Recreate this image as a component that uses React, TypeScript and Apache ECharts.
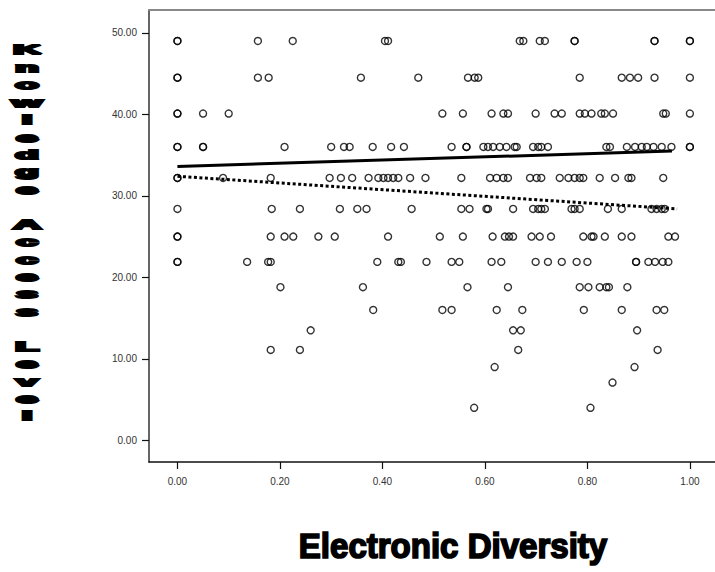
import React, { useEffect, useRef } from "react";
import * as echarts from "echarts";

const xTicks = [0, 0.2, 0.4, 0.6, 0.8, 1.0];
const yTicks = [0, 10, 20, 30, 40, 50];
const xTitle = "Electronic Diversity";
const yTitle = "Knowledge Access Level";

const rowLevels = [49.0, 44.5, 40.1, 36.0, 32.2, 28.4, 25.0, 21.9, 18.8, 16.0, 13.5, 11.1, 9.0, 7.1, 4.0];
const row49 = [0, 0, 0.157, 0.225, 0.405, 0.411, 0.668, 0.675, 0.707, 0.717, 0.775, 0.775, 0.931, 0.931, 1.0, 1.0];
const row44 = [0, 0, 0.157, 0.178, 0.358, 0.47, 0.567, 0.58, 0.587, 0.785, 0.867, 0.883, 0.899, 0.931, 1.0];
const row40 = [0, 0, 0.05, 0.1, 0.517, 0.557, 0.613, 0.636, 0.645, 0.699, 0.736, 0.75, 0.785, 0.795, 0.808, 0.827, 0.834, 0.85, 0.948, 0.953, 1.0];
const row36 = [0, 0, 0.05, 0.05, 0.209, 0.3, 0.325, 0.336, 0.381, 0.417, 0.442, 0.535, 0.564, 0.564, 0.597, 0.606, 0.616, 0.629, 0.642, 0.658, 0.662, 0.694, 0.704, 0.71, 0.723, 0.837, 0.844, 0.877, 0.893, 0.906, 0.916, 0.929, 0.945, 0.964, 1.0, 1.0];
const row32 = [0, 0, 0.089, 0.182, 0.297, 0.319, 0.341, 0.373, 0.392, 0.402, 0.411, 0.421, 0.431, 0.454, 0.484, 0.554, 0.61, 0.623, 0.636, 0.645, 0.688, 0.701, 0.71, 0.746, 0.763, 0.775, 0.785, 0.792, 0.824, 0.854, 0.88, 0.886, 0.948];
const row28 = [0, 0.184, 0.239, 0.317, 0.351, 0.369, 0.457, 0.554, 0.57, 0.603, 0.606, 0.655, 0.694, 0.704, 0.71, 0.717, 0.769, 0.775, 0.785, 0.84, 0.867, 0.925, 0.935, 0.945, 0.951];
const row25 = [0, 0, 0.182, 0.209, 0.226, 0.275, 0.307, 0.411, 0.512, 0.557, 0.615, 0.639, 0.647, 0.655, 0.691, 0.707, 0.729, 0.792, 0.808, 0.812, 0.834, 0.867, 0.886, 0.958, 0.971];
const row21 = [0, 0, 0.136, 0.177, 0.182, 0.39, 0.431, 0.436, 0.486, 0.535, 0.55, 0.613, 0.632, 0.699, 0.723, 0.75, 0.779, 0.8, 0.895, 0.895, 0.919, 0.932, 0.947, 0.958];
const row18 = [0.201, 0.362, 0.566, 0.645, 0.785, 0.802, 0.824, 0.837, 0.842, 0.878];
const row16 = [0.382, 0.517, 0.535, 0.623, 0.673, 0.793, 0.867, 0.935, 0.95];
const row13 = [0.26, 0.655, 0.67, 0.897];
const row11 = [0.182, 0.239, 0.665, 0.937];
const row9 = [0.619, 0.892];
const row7 = [0.849];
const row4 = [0.579, 0.806];
const rowXs = [row49, row44, row40, row36, row32, row28, row25, row21, row18, row16, row13, row11, row9, row7, row4];

const fitSolid = [[0, 33.6], [0.965, 35.5]];
const fitDotted = [[0, 32.4], [0.975, 28.4]];

export default function App() {
  const ref = useRef<HTMLDivElement>(null);
  useEffect(() => {
    if (!ref.current) return;
    const chart = echarts.init(ref.current, null, { renderer: "svg" });
    const points: number[][] = [];
    rowXs.forEach((xs, i) => xs.forEach((x) => points.push([x, rowLevels[i]])));
    const labelFont = '"Liberation Sans", Arial, sans-serif';
    chart.setOption({
      animation: false,
      backgroundColor: "#fff",
      grid: { left: 149, top: 10, right: 0, bottom: 110, containLabel: false },
      xAxis: [
        {
          type: "value",
          min: -0.0555,
          max: 1.049,
          axisLine: { show: true, onZero: false, lineStyle: { color: "#111", width: 1.5 } },
          axisTick: { show: true, customValues: xTicks, length: 7, lineStyle: { color: "#111", width: 1.2 } },
          axisLabel: {
            customValues: xTicks,
            formatter: (v: number) => v.toFixed(2),
            fontSize: 10,
            color: "#333",
            fontFamily: labelFont,
            margin: 14,
          },
          splitLine: { show: false },
        },
        {
          type: "value",
          position: "top",
          min: -0.0555,
          max: 1.049,
          axisLine: { show: true, onZero: false, lineStyle: { color: "#888", width: 2 } },
          axisTick: { show: false },
          axisLabel: { show: false },
          splitLine: { show: false },
        },
      ],
      yAxis: {
        type: "value",
        min: -2.65,
        max: 52.8,
        axisLine: { show: true, onZero: false, lineStyle: { color: "#333", width: 1.5 } },
        axisTick: { show: true, customValues: yTicks, length: 7, lineStyle: { color: "#111", width: 1.2 } },
        axisLabel: {
          customValues: yTicks,
          formatter: (v: number) => v.toFixed(2),
          fontSize: 10,
          color: "#333",
          fontFamily: labelFont,
          margin: 12,
        },
        splitLine: { show: false },
      },
      series: [
        {
          type: "scatter",
          data: points,
          symbol: "circle",
          symbolSize: 7,
          itemStyle: { color: "rgba(255,255,255,0)", borderColor: "#000", borderWidth: 1.4 },
          z: 3,
        },
        {
          type: "line",
          data: fitSolid,
          showSymbol: false,
          lineStyle: { color: "#000", width: 3 },
          z: 4,
        },
        {
          type: "line",
          data: fitDotted,
          showSymbol: false,
          lineStyle: { color: "#000", width: 3, type: [3, 2.5] },
          z: 4,
        },
      ],
      graphic: [
        {
          type: "text",
          x: 453,
          y: 546,
          scaleX: 1.18,
          scaleY: 1.25,
          style: {
            text: xTitle,
            font: 'bold 28px "Liberation Sans", Arial, sans-serif',
            fill: "#000",
            stroke: "#000",
            lineWidth: 1.4,
            align: "center",
            verticalAlign: "middle",
            textAlign: "center",
            textVerticalAlign: "middle",
          },
        },
        {
          type: "text",
          x: 27,
          y: 41,
          scaleX: 2.4,
          scaleY: 0.85,
          style: {
            text: yTitle.split("").join("\n"),
            font: 'bold 16px "Liberation Sans", Arial, sans-serif',
            lineHeight: 20.5,
            fill: "#000",
            stroke: "#000",
            lineWidth: 2.4,
            align: "center",
            verticalAlign: "top",
            textAlign: "center",
            textVerticalAlign: "top",
          },
        },
      ],
    });
    return () => chart.dispose();
  }, []);
  return <div ref={ref} style={{ position: "fixed", left: 0, top: 0, width: 715, height: 572 }} />;
}
